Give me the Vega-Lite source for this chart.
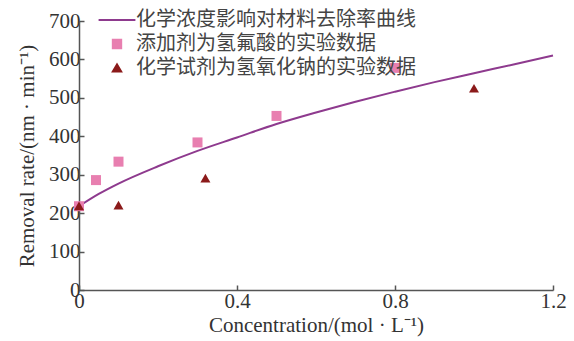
{
  "$schema": "https://vega.github.io/schema/vega-lite/v6.json",
  "width": 474,
  "height": 269,
  "autosize": "none",
  "padding": {"left": 79, "top": 21, "right": 21, "bottom": 51},
  "background": "white",
  "datasets": {
    "curve": [
      {"c": 0, "r": 218, "series": "化学浓度影响对材料去除率曲线"},
      {"c": 0.05, "r": 250, "series": "化学浓度影响对材料去除率曲线"},
      {"c": 0.1, "r": 277, "series": "化学浓度影响对材料去除率曲线"},
      {"c": 0.2, "r": 322, "series": "化学浓度影响对材料去除率曲线"},
      {"c": 0.3, "r": 362, "series": "化学浓度影响对材料去除率曲线"},
      {"c": 0.4, "r": 397, "series": "化学浓度影响对材料去除率曲线"},
      {"c": 0.5, "r": 432, "series": "化学浓度影响对材料去除率曲线"},
      {"c": 0.6, "r": 462, "series": "化学浓度影响对材料去除率曲线"},
      {"c": 0.7, "r": 490, "series": "化学浓度影响对材料去除率曲线"},
      {"c": 0.8, "r": 516, "series": "化学浓度影响对材料去除率曲线"},
      {"c": 0.9, "r": 541, "series": "化学浓度影响对材料去除率曲线"},
      {"c": 1.0, "r": 564, "series": "化学浓度影响对材料去除率曲线"},
      {"c": 1.1, "r": 587, "series": "化学浓度影响对材料去除率曲线"},
      {"c": 1.2, "r": 610, "series": "化学浓度影响对材料去除率曲线"}
    ],
    "points": [
      {"c": 0, "r": 218, "series": "添加剂为氢氟酸的实验数据"},
      {"c": 0.043, "r": 286, "series": "添加剂为氢氟酸的实验数据"},
      {"c": 0.1, "r": 334, "series": "添加剂为氢氟酸的实验数据"},
      {"c": 0.3, "r": 384, "series": "添加剂为氢氟酸的实验数据"},
      {"c": 0.5, "r": 453, "series": "添加剂为氢氟酸的实验数据"},
      {"c": 0.8, "r": 578, "series": "添加剂为氢氟酸的实验数据"},
      {"c": 0, "r": 219, "series": "化学试剂为氢氧化钠的实验数据"},
      {"c": 0.1, "r": 221, "series": "化学试剂为氢氧化钠的实验数据"},
      {"c": 0.32, "r": 291, "series": "化学试剂为氢氧化钠的实验数据"},
      {"c": 1.0, "r": 525, "series": "化学试剂为氢氧化钠的实验数据"}
    ]
  },
  "config": {
    "view": {"stroke": null},
    "font": "Liberation Serif, Noto Sans CJK SC",
    "axis": {
      "grid": false,
      "domainColor": "#555",
      "domainWidth": 1.5,
      "tickColor": "#555",
      "tickWidth": 1.5,
      "tickSize": -5,
      "labelFont": "Liberation Serif",
      "labelFontSize": 21,
      "labelColor": "#333",
      "titleFont": "Liberation Serif",
      "titleFontSize": 21,
      "titleFontWeight": "normal",
      "titleColor": "#333"
    }
  },
  "encoding": {
    "x": {
      "field": "c", "type": "quantitative",
      "scale": {"domain": [0, 1.2], "nice": false, "zero": true},
      "axis": {"values": [0, 0.4, 0.8, 1.2], "title": "Concentration/(mol · L⁻¹)", "labelPadding": 5, "titlePadding": 3, "format": ".1~f", "labelFlush": false}
    },
    "y": {
      "field": "r", "type": "quantitative",
      "scale": {"domain": [0, 700], "nice": false},
      "axis": {"values": [0, 100, 200, 300, 400, 500, 600, 700], "title": "Removal rate/(nm · min⁻¹)", "labelPadding": 4, "titlePadding": 11, "labelFlush": false}
    },
    "color": {
      "field": "series", "type": "nominal",
      "scale": {
        "domain": ["化学浓度影响对材料去除率曲线", "添加剂为氢氟酸的实验数据", "化学试剂为氢氧化钠的实验数据"],
        "range": ["#8e3a8e", "#e87fb0", "#8b1a1a"]
      },
      "legend": {
        "title": null,
        "orient": "none",
        "legendX": 28,
        "legendY": -11,
        "labelFont": "Noto Sans CJK SC",
        "labelFontSize": 20,
        "labelColor": "#444",
        "labelLimit": 0,
        "labelOffset": 9,
        "rowPadding": 4,
        "symbolSize": 70,
        "symbolStrokeWidth": 2,
        "encode": {"symbols": {"update": {"stroke": {"scale": "color", "field": "value"}}}}
      }
    }
  },
  "layer": [
    {
      "data": {"name": "curve"},
      "mark": {"type": "line", "strokeWidth": 2, "interpolate": "monotone"}
    },
    {
      "data": {"name": "points"},
      "mark": {"type": "point", "filled": true, "size": 100, "opacity": 1},
      "encoding": {
        "shape": {
          "field": "series", "type": "nominal",
          "scale": {
            "domain": ["化学浓度影响对材料去除率曲线", "添加剂为氢氟酸的实验数据", "化学试剂为氢氧化钠的实验数据"],
            "range": ["M-4.4,0H4.4", "square", "triangle-up"]
          },
          "legend": {
            "title": null,
            "orient": "none",
            "legendX": 28,
            "legendY": -11,
            "labelFont": "Noto Sans CJK SC",
            "labelFontSize": 20,
            "labelColor": "#444",
            "labelLimit": 0,
            "labelOffset": 9,
            "rowPadding": 4,
            "symbolSize": 70,
            "symbolStrokeWidth": 2,
            "encode": {"symbols": {"update": {"stroke": {"scale": "color", "field": "value"}}}}
          }
        }
      }
    }
  ]
}
